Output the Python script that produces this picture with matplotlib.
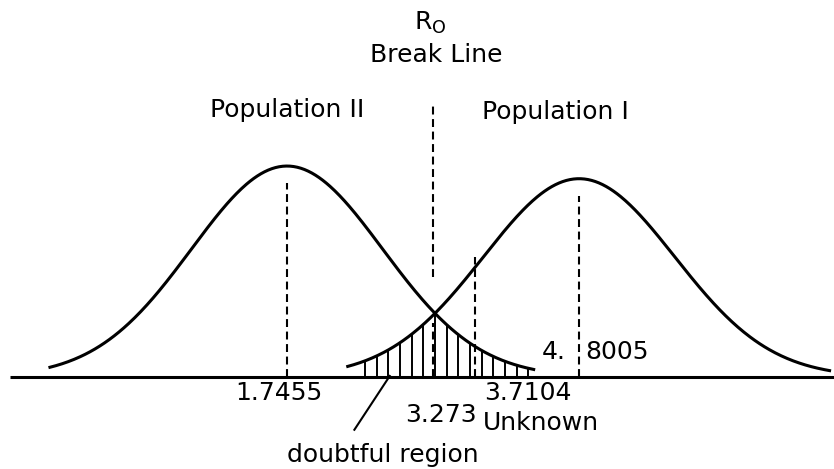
import numpy as np
import matplotlib.pyplot as plt

# values written on the diagram
pop_names = ['Population II', 'Population I']
pop_means = [1.7455, 4.8005]
peak_heights = [1.0, 0.94]      # relative heights of the two bells as drawn
sigma = 1.0
r0 = 3.273                       # break line (midpoint of the means)
unknown = 3.7104

def bell(x, m, h):
    return h * np.exp(-(x - m) ** 2 / (2 * sigma ** 2))

fig = plt.figure(figsize=(8.34, 4.69), dpi=100)
ax = fig.add_axes([0, 0, 1, 1])
ax.set_xlim(-1.257, 7.467)
ax.set_ylim(-0.436, 1.787)
ax.axis('off')

lw = 2.2
dash = (0, (3.8, 2.2))

# base line
ax.plot([-1.15, 7.467], [0, 0], color='black', lw=lw, solid_capstyle='butt')

# the two populations (tails cut off a little unevenly, as drawn)
tails = [(2.48, 2.58), (2.42, 2.62)]
for m, h, (tl, tr) in zip(pop_means, peak_heights, tails):
    xs = np.linspace(m - tl * sigma, m + tr * sigma, 400)
    ax.plot(xs, bell(xs, m, h), color='black', lw=lw)

# mean lines
ax.plot([pop_means[0]] * 2, [0, 0.92], color='black', lw=1.5, ls=dash)
ax.plot([pop_means[1]] * 2, [0, 0.86], color='black', lw=1.5, ls=dash)

# doubtful region: vertical hatch under the overlap
lo = pop_means[1] - tails[1][0] * sigma
hi = pop_means[0] + tails[0][1] * sigma
hx = np.arange(lo + 0.18, hi - 0.05, 0.122)
hy = np.minimum(bell(hx, pop_means[0], peak_heights[0]),
                bell(hx, pop_means[1], peak_heights[1]))
ax.vlines(hx, 0, hy, color='black', lw=1.4)

# break line R0
ax.plot([r0, r0], [0, 0.256], color='black', lw=1.5, ls=dash)
ax.plot([r0, r0], [0.474, 1.30], color='black', lw=1.5, ls=dash)

# unknown
ax.plot([unknown, unknown], [0, 0.57], color='black', lw=1.5, ls=dash)

fs = 18
ax.text(r0 - 0.03, 1.68, r'R$_\mathregular{O}$', ha='center', va='center', fontsize=fs)
ax.text(r0 + 0.03, 1.526, 'Break Line', ha='center', va='center', fontsize=fs)
ax.text(pop_means[0], 1.265, pop_names[0], ha='center', va='center', fontsize=fs)
ax.text(pop_means[1] - 0.25, 1.255, pop_names[1], ha='center', va='center', fontsize=fs)

ax.text(pop_means[0] - 0.09, -0.076, f'{pop_means[0]:.4f}', ha='center', va='center', fontsize=fs)
m2 = f'{pop_means[1]:.4f}'
ax.text(pop_means[1] - 0.14, 0.118, m2[:2], ha='right', va='center', fontsize=fs)
ax.text(pop_means[1] + 0.06, 0.118, m2[2:], ha='left', va='center', fontsize=fs)
ax.text(r0 + 0.08, -0.18, f'{r0:.3f}', ha='center', va='center', fontsize=fs)
ax.text(unknown + 0.1, -0.076, f'{unknown:.4f}', ha='left', va='center', fontsize=fs)
ax.text(unknown + 0.08, -0.218, 'Unknown', ha='left', va='center', fontsize=fs)
ax.text(2.75, -0.37, 'doubtful region', ha='center', va='center', fontsize=fs)

# pointer to the doubtful region
ax.plot([2.45, 2.82], [-0.25, 0.005], color='black', lw=1.5)

fig.savefig('out.png', dpi=100)
